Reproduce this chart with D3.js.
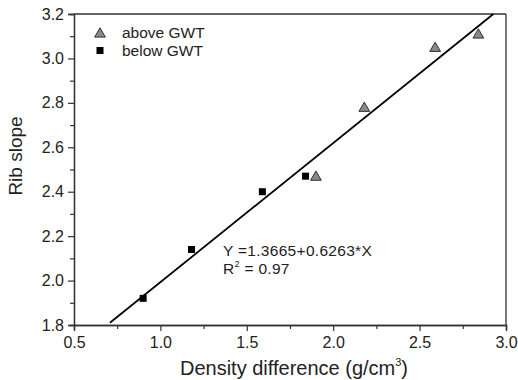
<!DOCTYPE html>
<html>
<head>
<meta charset="utf-8">
<script src="https://cdn.jsdelivr.net/npm/d3@7"></script>
<style>
  body { margin: 0; background: #fff; }
  svg { font-family: "Liberation Sans", Arial, sans-serif; }
</style>
</head>
<body>
<svg id="chart" width="518" height="380"></svg>
<script>
// Dades
const aboveX = [1.90, 2.18, 2.59, 2.84];
const aboveY = [2.47, 2.78, 3.05, 3.11];
const belowX = [0.90, 1.18, 1.59, 1.84];
const belowY = [1.92, 2.14, 2.40, 2.47];
const fitIntercept = 1.3665, fitSlope = 0.6263;
const fitRange = [0.708, 2.927];
const xTicks = [0.5, 1.0, 1.5, 2.0, 2.5, 3.0];
const yTicks = [1.8, 2.0, 2.2, 2.4, 2.6, 2.8, 3.0, 3.2];

const margin = { top: 14, right: 12, bottom: 55, left: 74 },
      width = 518 - margin.left - margin.right,
      height = 380 - margin.top - margin.bottom;

const svg = d3.select("#chart")
    .append("g")
    .attr("transform", `translate(${margin.left},${margin.top})`);

const x = d3.scaleLinear().domain([0.5, 3.0]).range([0, width]);
const y = d3.scaleLinear().domain([1.8, 3.2]).range([height, 0]);

const axisColor = "#333";

// Eix X
const gx = svg.append("g")
    .attr("transform", `translate(0,${height})`)
    .call(d3.axisBottom(x).tickValues(xTicks).tickFormat(d3.format(".1f")).tickSizeOuter(0).tickSize(6));
const gxMinor = svg.append("g")
    .attr("transform", `translate(0,${height})`)
    .call(d3.axisBottom(x).tickValues(xTicks.slice(0, -1).map(d => d + 0.25)).tickFormat("").tickSizeOuter(0).tickSize(4));

// Eix Y
const gy = svg.append("g")
    .call(d3.axisLeft(y).tickValues(yTicks).tickFormat(d3.format(".1f")).tickSizeOuter(0).tickSize(6));
const gyMinor = svg.append("g")
    .call(d3.axisLeft(y).tickValues(yTicks.slice(0, -1).map(d => d + 0.1)).tickFormat("").tickSizeOuter(0).tickSize(4));

[gx, gxMinor, gy, gyMinor].forEach(g => {
    g.select(".domain").attr("stroke", axisColor).attr("stroke-width", 1.3);
    g.selectAll(".tick line").attr("stroke", axisColor).attr("stroke-width", 1.2);
    g.selectAll(".tick text").attr("font-size", "16px").attr("fill", "#222")
        .attr("font-family", "Liberation Sans, Arial, sans-serif");
});
gx.selectAll(".tick text").attr("dy", "0.85em");
gy.selectAll(".tick text").attr("x", -10);

// Marc superior i dret
svg.append("line").attr("x1", 0).attr("x2", width).attr("y1", 0).attr("y2", 0)
    .attr("stroke", axisColor).attr("stroke-width", 1.3);
svg.append("line").attr("x1", width).attr("x2", width).attr("y1", 0).attr("y2", height)
    .attr("stroke", axisColor).attr("stroke-width", 1.3);

// Recta d'ajust
svg.append("line")
    .attr("x1", x(fitRange[0])).attr("y1", y(fitIntercept + fitSlope * fitRange[0]))
    .attr("x2", x(fitRange[1])).attr("y2", y(fitIntercept + fitSlope * fitRange[1]))
    .attr("stroke", "#000").attr("stroke-width", 1.8);

// Punts
const tri = d3.symbol().type(d3.symbolTriangle).size(50);
svg.selectAll(".above")
    .data(aboveX.map((d, i) => [d, aboveY[i]]))
    .enter().append("path")
    .attr("transform", d => `translate(${x(d[0])},${y(d[1]) + 1})`)
    .attr("d", tri)
    .attr("fill", "#888").attr("stroke", "#333").attr("stroke-width", 1);

svg.selectAll(".below")
    .data(belowX.map((d, i) => [d, belowY[i]]))
    .enter().append("rect")
    .attr("x", d => x(d[0]) - 3.5).attr("y", d => y(d[1]) - 3.5)
    .attr("width", 7).attr("height", 7)
    .attr("fill", "#000");

// Llegenda
const lg = svg.append("g").attr("transform", "translate(26,19)");
lg.append("path").attr("d", tri).attr("transform", "translate(0,1)")
    .attr("fill", "#888").attr("stroke", "#333").attr("stroke-width", 1);
lg.append("text").attr("x", 22).attr("y", 4.5).attr("font-size", "15.5px").attr("fill", "#222").text("above GWT");
lg.append("rect").attr("x", -3.5).attr("y", 14).attr("width", 7).attr("height", 7).attr("fill", "#000");
lg.append("text").attr("x", 22).attr("y", 23).attr("font-size", "15.5px").attr("fill", "#222").text("below GWT");

// Equació
const eq = svg.append("g").attr("transform", `translate(${223 - margin.left},0)`);
eq.append("text").attr("x", 0).attr("y", 256 - margin.top).attr("font-size", "15.5px").attr("fill", "#222")
    .attr("letter-spacing", "0.3px")
    .text("Y =1.3665+0.6263*X");
const r2 = eq.append("text").attr("x", 0).attr("y", 274 - margin.top).attr("font-size", "15.5px").attr("fill", "#222")
    .attr("letter-spacing", "0.3px");
r2.append("tspan").text("R");
r2.append("tspan").attr("font-size", "9px").attr("dy", "-7").text("2");
r2.append("tspan").attr("dy", "7").text(" = 0.97");

// Etiqueta eix X
const xl = svg.append("text")
    .attr("x", width / 2 + 4)
    .attr("y", height + 50)
    .attr("text-anchor", "middle")
    .attr("font-size", "20px").attr("fill", "#222");
xl.append("tspan").text("Density difference (g/cm");
xl.append("tspan").attr("font-size", "11px").attr("dy", "-9").text("3");
xl.append("tspan").attr("dy", "9").text(")");

// Etiqueta eix Y
svg.append("text")
    .attr("transform", "rotate(-90)")
    .attr("x", -142)
    .attr("y", -52)
    .attr("text-anchor", "middle")
    .attr("font-size", "19px").attr("fill", "#222")
    .text("Rib slope");
</script>
</body>
</html>
